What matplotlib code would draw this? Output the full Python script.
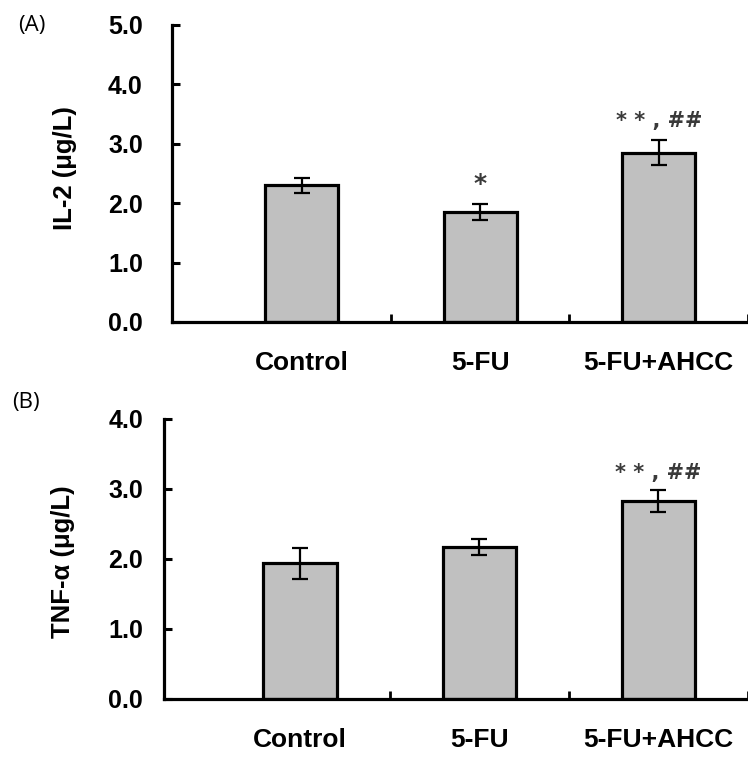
import matplotlib.pyplot as plt

groups = ['Control', '5-FU', '5-FU+AHCC']
il2_mean = [2.30, 1.85, 2.85]
il2_err = [0.13, 0.14, 0.21]
tnf_mean = [1.94, 2.17, 2.83]
tnf_err = [0.22, 0.12, 0.16]
il2_marks = ['', '*', '* * , ##']
tnf_marks = ['', '', '* * , ##']

plt.rcParams['font.family'] = ['Liberation Sans', 'DejaVu Sans']

fig = plt.figure(figsize=(7.48, 7.59), dpi=100)
ax1 = fig.add_axes([0.23, 0.5758, 0.77, 0.3913])
ax2 = fig.add_axes([0.2193, 0.0791, 0.7807, 0.3689])


def draw_panel(ax, means, errs, marks, ymax, ylabel, xleft, mark_off, ypad, label_xy):
    x = range(len(groups))
    ax.bar(x, means, width=0.41, color='#c0c0c0', edgecolor='black', linewidth=2.3, zorder=2)
    ax.errorbar(x, means, yerr=errs, fmt='none', ecolor='black', elinewidth=1.6,
                capsize=6, capthick=1.6, zorder=3)
    for i, m in enumerate(marks):
        if m:
            # asterisks drawn in DejaVu, which has a bigger glyph like the original
            ax.text(i, means[i] + errs[i] + mark_off, m, ha='center', va='center',
                    fontsize=18 if m == '*' else 15, fontweight='bold', color='#3a3a3a',
                    family='DejaVu Sans')
    ax.set_xlim(xleft, 2.49)
    ax.set_ylim(0, ymax)
    ax.set_yticks([i for i in range(int(ymax) + 1)])
    ax.set_yticklabels([f'{i:.1f}' for i in range(int(ymax) + 1)])
    ax.set_xticks(list(x))
    ax.set_xticklabels(groups, fontsize=19, fontweight='bold')
    ax.set_xticks([0.5, 1.5, 2.5], minor=True)
    ax.tick_params(axis='x', which='major', length=0, pad=21)
    ax.tick_params(axis='x', which='minor', direction='in', length=6, width=2)
    ax.tick_params(axis='y', direction='in', length=6, width=2.2, pad=ypad, labelsize=18)
    for t in ax.get_yticklabels():
        t.set_fontweight('bold')
    for s in ['top', 'right']:
        ax.spines[s].set_visible(False)
    for s in ['left', 'bottom']:
        ax.spines[s].set_linewidth(2.3)
    ax.set_ylabel(ylabel, fontsize=18.5, fontweight='bold')
    ax.yaxis.set_label_coords(*label_xy)


draw_panel(ax1, il2_mean, il2_err, il2_marks, 5.0, 'IL-2 (μg/L)', -0.726, 0.33, 21, (-0.165, 0.518))
draw_panel(ax2, tnf_mean, tnf_err, tnf_marks, 4.0, 'TNF-α (μg/L)', -0.76, 0.24, 15, (-0.152, 0.489))

fig.text(0.043, 0.966, '(A)', fontsize=16, family='Open Sans', ha='center', va='center')
fig.text(0.035, 0.47, '(B)', fontsize=16, family='Open Sans', ha='center', va='center')

fig.savefig('out.png', dpi=100)
